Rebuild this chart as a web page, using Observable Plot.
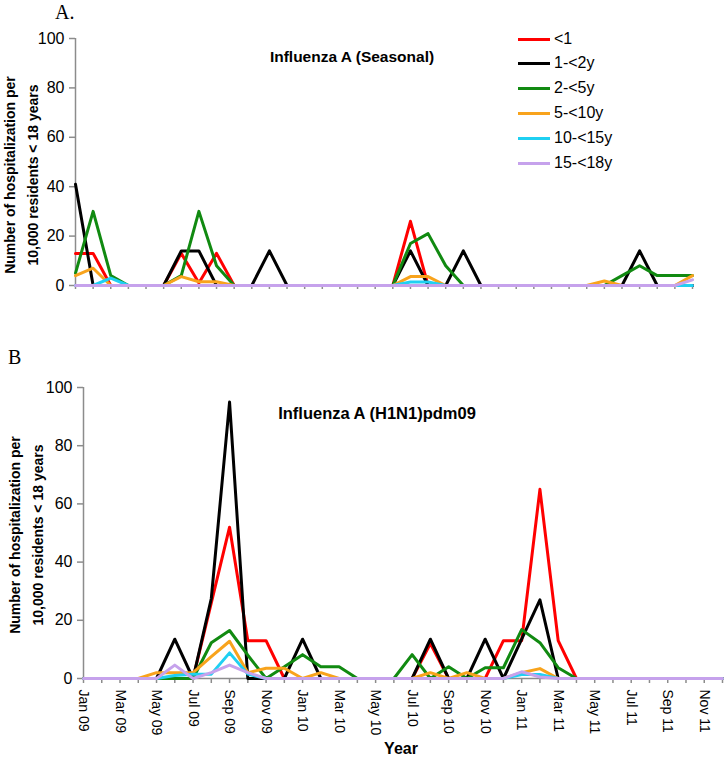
<!DOCTYPE html>
<html><head><meta charset="utf-8">
<script src="https://cdn.jsdelivr.net/npm/d3@7"></script>
<script src="https://cdn.jsdelivr.net/npm/@observablehq/plot@0.6"></script>
<style>
body{margin:0;background:#fff;}
#wrap{position:relative;width:728px;height:758px;font-family:"Liberation Sans",Arial,sans-serif;overflow:hidden;background:#fff;color:#000;}
.abs{position:absolute;white-space:pre;line-height:1;}
.c{transform:translate(-50%,-50%);}
.ytitle{font-weight:bold;font-size:14px;line-height:22.5px;text-align:center;transform:translate(-50%,-50%) rotate(-90deg);}
.panel{position:absolute;left:0;}
.lg{position:absolute;left:518px;width:32px;height:0;border-top:3px solid;}
.lgt{position:absolute;left:554px;font-size:16px;line-height:1;transform:translateY(-50%);}
</style></head><body><div id="wrap"></div>
<script>
const months = ["Jan 09","Feb 09","Mar 09","Apr 09","May 09","Jun 09","Jul 09","Aug 09","Sep 09","Oct 09","Nov 09","Dec 09",
  "Jan 10","Feb 10","Mar 10","Apr 10","May 10","Jun 10","Jul 10","Aug 10","Sep 10","Oct 10","Nov 10","Dec 10",
  "Jan 11","Feb 11","Mar 11","Apr 11","May 11","Jun 11","Jul 11","Aug 11","Sep 11","Oct 11","Nov 11","Dec 11"];
const ageGroups = ["<1","1-<2y","2-<5y","5-<10y","10-<15y","15-<18y"];
const ageColors = ["#ff0000","#000000","#118a11","#f8a31c","#1fd0f2","#c6a2ec"];
const yTicks = [0,20,40,60,80,100];

// Panel A: Influenza A (Seasonal)
const seasonalLt1  = [13,13,0,0,0,0,13,1,13,0,0,0, 0,0,0,0,0,0,0,26,0,0,0,0, 0,0,0,0,0,0,0,0,0,0,0,0];
const seasonal1to2 = [41,0,0,0,0,0,14,14,0,0,0,14, 0,0,0,0,0,0,0,14,0,0,14,0, 0,0,0,0,0,0,0,0,14,0,0,0];
const seasonal2to5 = [5,30,4,0,0,0,4,30,8,0,0,0, 0,0,0,0,0,0,0,17,21,8,0,0, 0,0,0,0,0,0,0,4,8,4,4,4];
const seasonal5to10 = [4,7,0,0,0,0,3.6,1.5,1.5,0,0,0, 0,0,0,0,0,0,0,3.6,3.6,0,0,0, 0,0,0,0,0,0,1.8,0,0,0,0,4];
const seasonal10to15 = [0,0,3,0,0,0,0,0,0,0,0,0, 0,0,0,0,0,0,0,1.4,1.4,0,0,0, 0,0,0,0,0,0,0,0,0,0,0,0];
const seasonal15to18 = [0,0,0,0,0,0,0,0,0,0,0,0, 0,0,0,0,0,0,0,0,0,0,0,0, 0,0,0,0,0,0,0,0,0,0,0,2.3];

// Panel B: Influenza A (H1N1)pdm09
const pdmLt1  = [0,0,0,0,0,0,0,26,52,13,13,0, 0,0,0,0,0,0,0,12,0,0,0,13, 13,65,13,0,0,0,0,0,0,0,0,0];
const pdm1to2 = [0,0,0,0,0,13.5,0,27.5,95,0,0,0, 13.5,0,0,0,0,0,0,13.5,0,0,13.5,0, 13.5,27,0,0,0,0,0,0,0,0,0,0];
const pdm2to5 = [0,0,0,0,0,0,0,12.3,16.5,8,0,4, 8.2,4,4,0,0,0,8.2,0,4,0,3.7,3.7, 16.8,12.3,3.7,0,0,0,0,0,0,0,0,0];
const pdm5to10 = [0,0,0,0,2,2,2,7.5,12.8,2,3.5,3.5, 0,2,0,0,0,0,0,2,0,2,0,0, 2,3.4,0,0,0,0,0,0,0,0,0,0];
const pdm10to15 = [0,0,0,0,0,1,1.5,1.5,8.8,1.5,0,0, 0,0,0,0,0,0,0,0,0,0,0,0, 1.4,1.4,0,0,0,0,0,0,0,0,0,0];
const pdm15to18 = [0,0,0,0,0,4.6,0,2,4.6,2,0,0, 0,0,0,0,0,0,0,0,0,0,0,0, 2.3,0.5,0,0,0,0,0,0,0,0,0,0];

const seasonalSeries = [seasonalLt1, seasonal1to2, seasonal2to5, seasonal5to10, seasonal10to15, seasonal15to18];
const pdmSeries = [pdmLt1, pdm1to2, pdm2to5, pdm5to10, pdm10to15, pdm15to18];
const monthIdx = months.map((d, i) => i);

function toRows(series) {
  const rows = [];
  series.forEach((vals, g) => vals.forEach((v, i) => rows.push({m: i, month: months[i], group: ageGroups[g], value: v})));
  return rows;
}

const font = '"Liberation Sans", Arial, sans-serif';
const wrap = document.getElementById("wrap");

function panel(rows, opts) {
  const marks = [
    Plot.ruleY([0], {stroke: "#8c8c8c", strokeWidth: 1.5}),
    Plot.axisX({ticks: monthIdx, tickSize: opts.xTickSize, stroke: "#8c8c8c", strokeWidth: 1.5, fill: "none", label: null}),
    Plot.ruleX([0], {stroke: "#8c8c8c", strokeWidth: 1.5}),
    Plot.axisY({ticks: yTicks, tickSize: 6, tickPadding: 5, stroke: "#8c8c8c", strokeWidth: 1.5, fill: "#000", fontSize: 16, label: null}),
    Plot.line(rows, {x: "m", y: "value", z: "group", stroke: "group", strokeWidth: 3})
  ];
  if (opts.labels) {
    marks.push(Plot.axisX({ticks: monthIdx.filter(i => i % 2 === 0), tickFormat: i => months[i], tickSize: 0, tickPadding: 11,
      tickRotate: 90, textAnchor: "start", lineAnchor: "middle", fontSize: 14, fill: "#000", label: null}));
  }
  const svg = Plot.plot({
    width: 728, height: opts.height,
    marginTop: opts.mt, marginBottom: opts.mb, marginLeft: opts.ml, marginRight: opts.mr,
    x: {type: "linear", domain: [0, months.length - 1]},
    y: {domain: [0, 100]},
    color: {domain: ageGroups, range: ageColors},
    style: {fontFamily: font, background: "transparent", overflow: "visible"},
    marks
  });
  svg.classList.add("panel");
  svg.style.top = opts.top + "px";
  wrap.appendChild(svg);
}

panel(toRows(seasonalSeries), {top: 0, height: 300, mt: 38, mb: 15, ml: 75, mr: 36, xTickSize: 4, labels: false});
panel(toRows(pdmSeries), {top: 330, height: 428, mt: 57, mb: 80, ml: 83, mr: 6, xTickSize: 5, labels: true});

function addText(txt, cls, style) {
  const d = document.createElement("div");
  d.className = cls;
  d.textContent = txt;
  Object.assign(d.style, style);
  wrap.appendChild(d);
  return d;
}

addText("A.", "abs", {left: "55px", top: "2px", fontFamily: '"Liberation Serif", "Times New Roman", serif', fontSize: "20px"});
addText("B", "abs", {left: "8px", top: "347px", fontFamily: '"Liberation Serif", "Times New Roman", serif', fontSize: "20px"});
addText("Influenza A (Seasonal)", "abs c", {left: "352px", top: "57px", fontWeight: "bold", fontSize: "15.5px"});
addText("Influenza A (H1N1)pdm09", "abs c", {left: "377px", top: "413px", fontWeight: "bold", fontSize: "16.5px"});
addText("Number of hospitalization per\n10,000 residents < 18 years", "abs ytitle", {left: "21px", top: "175px"});
addText("Number of hospitalization per\n10,000 residents < 18 years", "abs ytitle", {left: "26px", top: "535px"});
addText("Year", "abs c", {left: "401px", top: "749px", fontWeight: "bold", fontSize: "16px"});

const legendRows = [39, 63, 88, 113, 138, 163];
ageGroups.forEach((g, i) => {
  const l = document.createElement("div");
  l.className = "lg";
  l.style.top = (legendRows[i] - 1.5) + "px";
  l.style.borderTopColor = ageColors[i];
  wrap.appendChild(l);
  addText(g, "lgt", {top: legendRows[i] + "px"});
});
</script>
</body></html>
